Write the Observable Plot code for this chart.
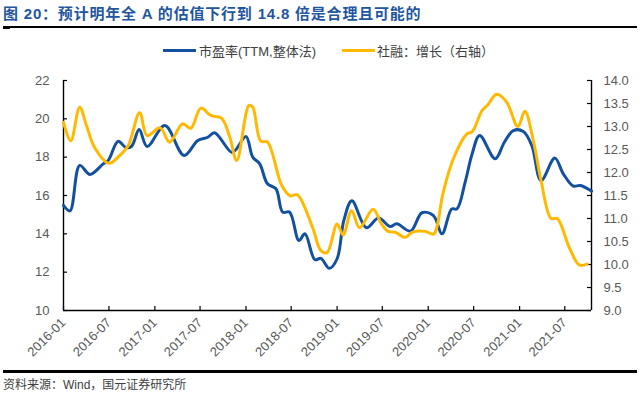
<!DOCTYPE html>
<html><head><meta charset="utf-8">
<script src="https://cdn.jsdelivr.net/npm/d3@7"></script>
<script src="https://cdn.jsdelivr.net/npm/@observablehq/plot@0.6"></script>
<style>
body{margin:0;background:#fff;width:642px;height:398px;position:relative;overflow:hidden;font-family:"Liberation Sans",Arial,sans-serif}
#title{position:absolute;left:3px;top:4px;height:20px;line-height:20px;font-weight:bold;font-size:15px;font-family:"Liberation Sans","Noto Sans CJK SC",sans-serif;color:#2356a0;letter-spacing:0.8px;white-space:nowrap}
.lg-line{position:absolute;height:3px;width:33px;top:49px}
.lg-text{position:absolute;top:41px;font-size:13px;color:#404040;font-family:"Liberation Sans","Noto Sans CJK SC",sans-serif;white-space:nowrap}
#chart{position:absolute;left:0;top:62px}
#caption{position:absolute;left:3px;top:377px;line-height:16px;font-size:12px;font-family:"Liberation Sans","Noto Sans CJK SC",sans-serif;color:#404040;white-space:nowrap}
.seg{position:absolute;background:#000}
</style></head>
<body>
<div id="title">图 20：预计明年全 A 的估值下行到 14.8 倍是合理且可能的</div>
<div class="seg" style="left:3px;top:26px;width:212px;height:2px"></div>
<div class="seg" style="left:214px;top:26px;width:212px;height:2px"></div>
<div class="seg" style="left:425px;top:26px;width:212px;height:2px"></div>
<div class="seg" style="left:3px;top:26px;width:7px;height:3px"></div>
<div class="lg-line" style="left:163px;background:#1450A0"></div>
<div class="lg-text" style="left:199px">市盈率(TTM,整体法)</div>
<div class="lg-line" style="left:342px;background:#FFB900"></div>
<div class="lg-text" style="left:377px">社融：增长（右轴）</div>
<div id="chart"></div>
<div class="seg" style="left:3px;top:370px;width:212px;height:3px"></div>
<div class="seg" style="left:214px;top:370px;width:212px;height:3px"></div>
<div class="seg" style="left:425px;top:370px;width:212px;height:3px"></div>
<div id="caption">资料来源：Wind，国元证券研究所</div>
<script>
// 市盈率(TTM,整体法) — left axis
const peDates = ["2016-01-01","2016-01-27","2016-03-06","2016-04-16","2016-06-08","2016-06-28","2016-08-07","2016-09-07","2016-09-30","2016-10-30","2016-12-01","2017-02-10","2017-04-28","2017-06-22","2017-08-01","2017-08-28","2017-11-04","2017-11-22","2018-01-01","2018-01-28","2018-02-25","2018-03-28","2018-05-01","2018-05-28","2018-06-25","2018-08-01","2018-08-25","2018-10-04","2018-10-28","2018-12-01","2019-01-01","2019-01-28","2019-03-01","2019-04-28","2019-06-16","2019-08-01","2019-08-28","2019-10-22","2019-12-07","2020-01-22","2020-02-25","2020-04-04","2020-04-25","2020-05-28","2020-06-25","2020-07-25","2020-09-25","2020-11-01","2020-12-07","2021-01-16","2021-02-19","2021-03-28","2021-05-22","2021-06-25","2021-08-04","2021-09-01","2021-10-16"];
const peValues = [15.48,15.2,17.57,17.1,17.65,17.83,18.83,18.5,18.57,19.44,18.56,19.65,18.09,18.87,19.04,19.27,18.26,18.4,19.08,18.0,17.65,16.61,16.35,15.13,15.13,13.65,14.0,12.65,12.72,12.2,12.7,14.7,15.72,14.32,14.82,14.38,14.52,14.14,15.1,14.95,14.0,15.3,15.3,16.7,18.18,19.13,17.92,18.78,19.39,19.34,18.6,16.78,17.95,17.13,16.49,16.52,16.23];
// 社融：增长 — right axis
const sfDates = ["2016-01-01","2016-01-30","2016-03-06","2016-04-02","2016-05-04","2016-07-01","2016-08-13","2016-09-16","2016-11-01","2016-12-01","2017-01-22","2017-03-01","2017-04-22","2017-05-25","2017-07-04","2017-08-13","2017-09-25","2017-10-28","2017-11-25","2018-01-13","2018-01-28","2018-03-01","2018-03-28","2018-05-25","2018-06-28","2018-07-25","2018-09-25","2018-10-28","2018-11-22","2019-01-01","2019-01-25","2019-02-28","2019-04-01","2019-05-25","2019-06-28","2019-07-25","2019-08-22","2019-10-01","2019-10-28","2019-12-19","2020-01-22","2020-02-04","2020-03-01","2020-04-16","2020-06-04","2020-06-25","2020-08-04","2020-08-25","2020-10-01","2020-11-10","2020-12-25","2021-01-22","2021-02-25","2021-03-28","2021-05-07","2021-06-01","2021-07-19","2021-08-28","2021-09-28"];
const sfValues = [13.09,12.69,13.42,13.02,12.55,12.2,12.37,12.58,13.3,12.8,12.97,12.66,13.06,12.96,13.4,13.24,13.18,12.77,12.26,13.46,13.42,12.68,12.66,11.71,11.49,11.52,10.8,10.3,10.26,10.88,10.64,11.17,10.8,11.2,10.88,10.72,10.7,10.59,10.7,10.72,10.66,10.8,11.57,12.37,12.84,12.89,13.35,13.46,13.7,13.53,13.0,13.33,12.69,11.82,11.0,11.0,10.37,9.99,10.01];
const xTickLabels = ["2016-01","2016-07","2017-01","2017-07","2018-01","2018-07","2019-01","2019-07","2020-01","2020-07","2021-01","2021-07"];
const leftTicks = [10,12,14,16,18,20,22];
const rightTicks = [9.0,9.5,10.0,10.5,11.0,11.5,12.0,12.5,13.0,13.5,14.0];
const xStart = "2016-01-01", xEnd = "2021-10-16";

const toL = r => 10 + (r - 9) * 2.4;
const fromL = l => 9 + (l - 10) / 2.4;
const pe = peDates.map((d, i) => ({date: new Date(d), v: peValues[i]}));
const sf = sfDates.map((d, i) => ({date: new Date(d), v: toL(sfValues[i])}));
const ticksX = xTickLabels.map(s => new Date(s + "-01"));
const xmin = new Date(xStart), xmax = new Date(xEnd);

const W = 642, H = 300, mL = 63, mR = 51, mT = 18, mB = 52;
const fw = W - mL - mR, fh = H - mT - mB;
const fmt = d3.utcFormat("%Y-%m");
const chart = Plot.plot({
  width: W, height: H, marginLeft: mL, marginRight: mR, marginTop: mT, marginBottom: mB,
  style: {fontFamily: "Liberation Sans, Arial, sans-serif", fontSize: "13px", color: "#595959", background: "transparent"},
  x: {type: "utc", domain: [xmin, xmax]},
  y: {domain: [10, 22]},
  marks: [
    Plot.axisY(leftTicks, {anchor: "left", tickSize: 0, tickPadding: 14, label: null, fontSize: 13}),
    Plot.axisY(rightTicks.map(toL), {anchor: "right", tickSize: 0, tickPadding: 12, label: null, fontSize: 13, tickFormat: d => fromL(d).toFixed(1)}),
    Plot.axisX(ticksX, {anchor: "bottom", tickSize: 0, tickRotate: -45, tickPadding: 10, label: null, fontSize: 13, tickFormat: fmt}),
    Plot.ruleY(leftTicks, {y: d => d, insetRight: fw - 4, stroke: "#000", strokeWidth: 1.2}),
    Plot.ruleY(rightTicks.map(toL), {y: d => d, insetLeft: fw - 4, stroke: "#000", strokeWidth: 1.2}),
    Plot.ruleX(ticksX, {x: d => d, insetTop: fh - 4, stroke: "#000", strokeWidth: 1.2}),
    Plot.ruleX([xmin, xmax], {x: d => d, stroke: "#000", strokeWidth: 1.4}),
    Plot.ruleY([10], {y: d => d, stroke: "#000", strokeWidth: 1.4}),
    Plot.line(pe, {x: "date", y: "v", stroke: "#1450A0", strokeWidth: 3, curve: "catmull-rom"}),
    Plot.line(sf, {x: "date", y: "v", stroke: "#FFB900", strokeWidth: 3, curve: "catmull-rom"})
  ]
});
document.getElementById("chart").appendChild(chart);
</script>
</body></html>
